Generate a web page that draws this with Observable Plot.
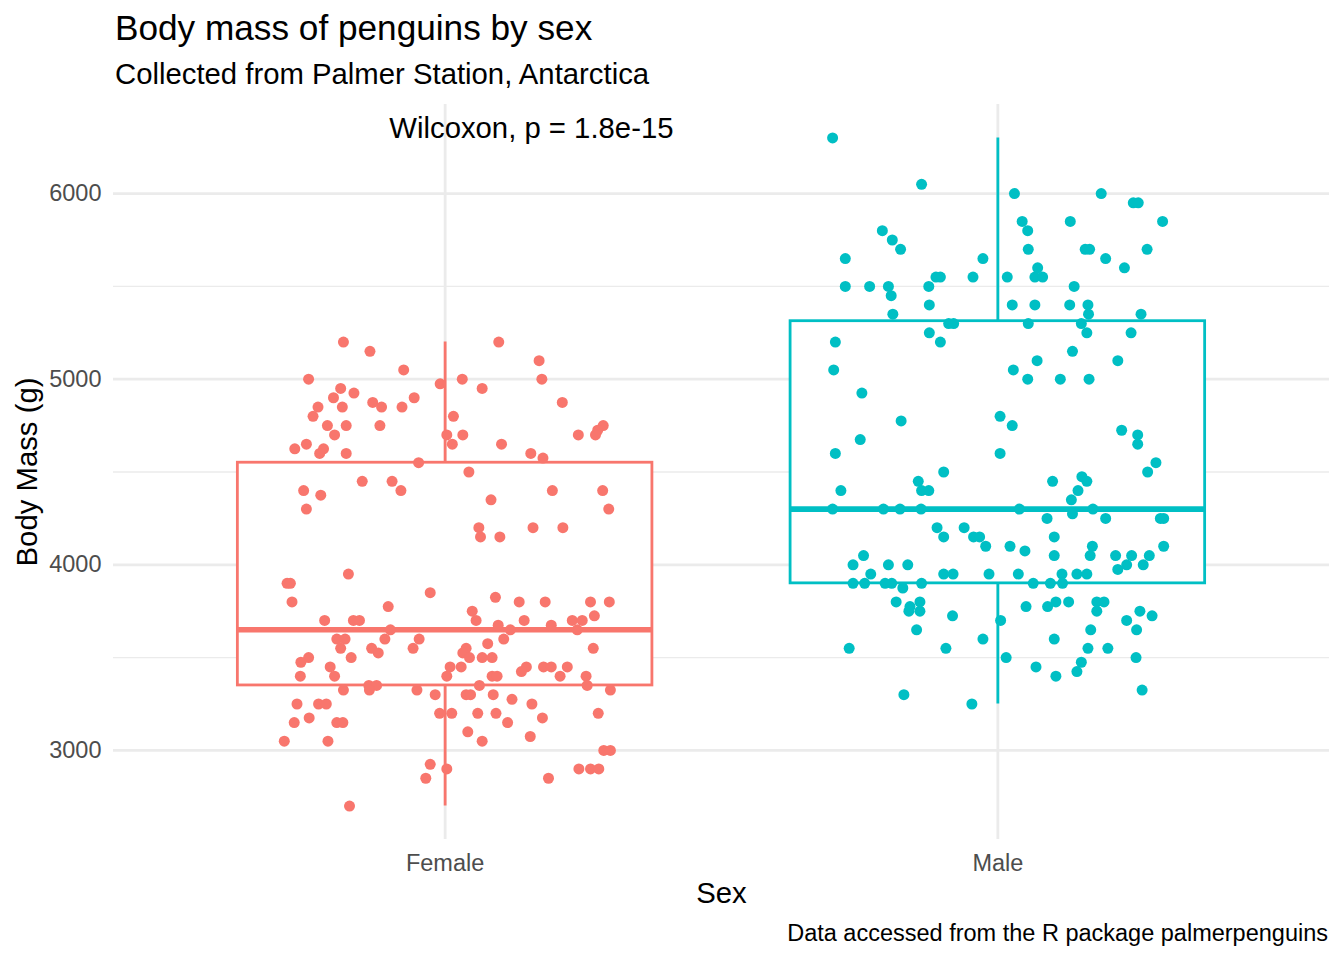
<!DOCTYPE html>
<html>
<head>
<meta charset="utf-8">
<script src="https://cdn.jsdelivr.net/npm/d3@7"></script>
<script src="https://cdn.jsdelivr.net/npm/@observablehq/plot@0.6"></script>
<style>
  body { margin: 0; background: #fff; font-family: "Liberation Sans", Arial, Helvetica, sans-serif; }
  #wrap { position: relative; width: 1344px; height: 960px; overflow: hidden; }
  .t { position: absolute; white-space: nowrap; line-height: 1; margin: 0; color: #000; }
</style>
</head>
<body>
<div id="wrap">
  <div class="t" style="left:115px; top:10px; font-size:35.2px;">Body mass of penguins by sex</div>
  <div class="t" style="left:115px; top:59px; font-size:29.3px;">Collected from Palmer Station, Antarctica</div>
  <div id="chart" style="position:absolute; left:0; top:92px;"></div>
  <div class="t" style="right:16px; top:922px; font-size:23.5px;">Data accessed from the R package palmerpenguins</div>
</div>
<script>
// ---- data ----
const sexes = ["Female", "Male"];
const sexColors = ["#F8766D", "#00BFC4"];
const yTicks = [3000, 4000, 5000, 6000];
const yMinorTicks = [3500, 4500, 5500];

// box-plot summary (g)
const boxQ1 = [3350, 3900];
const boxMedian = [3650, 4300];
const boxQ3 = [4550, 5312.5];
const whiskerLow = [2700, 3250];
const whiskerHigh = [5200, 6300];

const testLabel = "Wilcoxon, p = 1.8e-15";

// jittered points: body mass (g) and horizontal jitter (fraction of a category)
const femaleMass = [5200,5150,5050,5000,4975,4950,4925,4900,4900,4875,4850,4850,4850,4850,4800,4750,4750,4750,4700,4650,4625,4625,4600,4600,4550,4450,4450,4400,4375,4400,
5200,5100,5000,5000,4950,4875,4800,4750,4725,4700,4700,4700,4700,4650,4650,4600,4575,4500,4400,4400,4350,4300,4200,4150,4150,4200,4200,4300,3900,3900,
3800,3950,3850,3775,3700,3700,3700,3750,3700,3825,3800,3800,3800,3800,3725,3675,3700,3675,3700,3700,3650,3650,3600,3650,3600,3600,3550,3600,3600,3550,
3550,3525,3500,3500,3475,3450,3575,3550,3525,3500,3500,3500,3550,3450,3450,3450,3450,3450,3450,3425,3400,3400,3400,3400,3400,3400,3400,3350,3350,3325,
3350,3350,3325,3325,3325,3300,3300,3300,3300,3250,3250,3250,3275,3250,3175,3150,3150,3150,3200,3200,3200,3200,3150,3175,3200,3050,3050,3100,3050,3075,
3000,3000,2925,2850,2900,2900,2900,2900,2850,2700];
const femaleJitter = [-0.184,-0.136,-0.075,-0.247,-0.009,-0.189,-0.165,-0.202,-0.056,-0.131,-0.115,-0.230,-0.186,-0.078,-0.239,-0.213,-0.179,-0.118,-0.200,-0.251,-0.272,-0.220,-0.227,-0.179,-0.048,-0.150,-0.096,-0.256,-0.225,-0.080,
0.097,0.170,0.031,0.175,0.067,0.212,0.015,0.286,0.276,0.272,0.241,0.003,0.032,0.013,0.102,0.155,0.177,0.043,0.194,0.285,0.083,-0.251,0.061,0.064,0.099,0.159,0.213,0.296,-0.286,-0.280,
-0.277,-0.175,-0.027,-0.103,-0.218,-0.166,-0.155,0.049,0.056,0.091,0.134,0.181,0.263,0.297,0.270,0.096,0.143,0.192,0.230,0.248,0.239,0.118,0.106,-0.099,-0.109,-0.047,-0.058,-0.196,-0.181,-0.189,
-0.133,-0.121,-0.170,-0.247,-0.261,-0.208,0.077,0.038,0.032,0.044,0.067,0.085,0.268,0.009,0.029,0.147,0.178,0.192,0.221,0.138,-0.262,-0.200,0.003,0.085,0.094,0.208,0.255,-0.138,-0.124,-0.137,
0.062,0.257,-0.184,-0.051,0.299,-0.018,0.038,0.046,0.087,-0.268,-0.229,-0.215,0.121,0.157,-0.246,-0.273,-0.196,-0.185,-0.010,0.012,0.059,0.092,0.113,0.176,0.277,-0.291,-0.212,0.041,0.067,0.154,
0.287,0.299,-0.027,-0.035,0.003,0.242,0.263,0.278,0.187,-0.173];

const maleMass = [6300,6050,6000,6000,5950,5950,5850,5850,5850,5800,
5800,5750,5700,5700,5700,5700,5700,5650,5650,5650,
5600,5600,5550,5550,5550,5550,5550,5550,5500,5500,
5500,5500,5500,5450,5400,5400,5400,5400,5400,5350,
5350,5350,5300,5300,5300,5300,5250,5250,5250,5200,
5200,5150,5100,5100,5050,5050,5000,5000,5000,4925,
4775,4800,4750,4725,4700,4650,4675,4600,4600,4550,
4500,4500,4450,4475,4450,4450,4400,4400,4400,4400,
4350,4300,4300,4300,4300,4300,4300,4275,4250,4250,
4250,4250,4200,4200,4150,4150,4150,4100,4100,4075,
4150,4050,4100,4050,4050,4050,4050,4100,4050,4000,
4000,4000,4000,4000,3975,3950,3950,3950,3950,3950,
3950,3950,3950,3900,3900,3900,3900,3900,3900,3900,
3900,3875,3800,3775,3800,3750,3750,3725,3700,3775,
3775,3800,3800,3800,3800,3750,3750,3725,3700,3650,
3650,3650,3600,3600,3550,3550,3550,3550,3500,3500,
3475,3425,3450,3400,3325,3300,3250];
const maleJitter = [-0.299,-0.138,0.030,0.187,0.245,0.254,0.044,0.131,0.298,-0.209,
0.054,-0.191,-0.176,0.055,0.158,0.166,0.270,-0.276,-0.027,0.195,
0.229,0.072,-0.104,-0.112,-0.045,0.017,0.067,0.081,-0.276,-0.232,
-0.198,-0.125,0.138,-0.193,-0.124,0.026,0.067,0.130,0.163,-0.190,
0.164,0.259,-0.089,-0.080,0.055,0.151,-0.124,0.161,0.241,-0.294,
-0.104,0.135,0.071,0.217,-0.297,0.028,0.054,0.113,0.165,-0.246,
-0.175,0.004,0.026,0.224,0.253,0.253,-0.249,-0.294,0.004,0.286,
0.271,-0.098,-0.144,0.152,0.161,0.099,-0.284,-0.138,-0.125,0.145,
0.133,-0.299,-0.207,-0.177,-0.139,0.039,0.172,0.135,0.089,0.195,
0.294,0.300,-0.110,-0.061,-0.098,-0.044,-0.033,-0.022,0.022,0.049,
0.102,0.102,0.171,0.167,0.213,0.242,0.274,0.300,-0.243,-0.262,
-0.198,-0.163,0.263,0.233,0.217,-0.230,-0.098,-0.081,-0.016,0.037,
0.116,0.143,0.161,-0.262,-0.241,-0.204,-0.192,-0.138,0.064,0.095,
0.117,-0.172,-0.184,-0.159,-0.141,-0.161,-0.141,-0.082,0.005,0.051,
0.090,0.105,0.128,0.179,0.192,0.179,0.257,0.279,0.233,0.251,
-0.147,0.168,-0.027,0.102,-0.269,-0.094,0.163,0.199,0.015,0.250,
0.151,0.143,0.069,0.105,0.261,-0.170,-0.047];

// ---- tables built from the arrays ----
const points = [
  ...femaleMass.map((m, i) => ({sex: "Female", pos: 1 + femaleJitter[i], mass: m})),
  ...maleMass.map((m, i) => ({sex: "Male", pos: 2 + maleJitter[i], mass: m}))
];
const boxes = sexes.map((s, i) => ({
  sex: s, pos: i + 1, q1: boxQ1[i], med: boxMedian[i], q3: boxQ3[i], lo: whiskerLow[i], hi: whiskerHigh[i]
}));
const halfBox = 0.375;
const font = '"Liberation Sans", Arial, Helvetica, sans-serif';

const chart = Plot.plot({
  width: 1344,
  height: 820,
  marginTop: 12,
  marginBottom: 73,
  marginLeft: 113,
  marginRight: 15,
  style: {fontFamily: font, background: "white", overflow: "visible"},
  x: {domain: [0.4, 2.6]},
  y: {domain: [2520, 6480]},
  color: {domain: sexes, range: sexColors},
  marks: [
    Plot.gridY(yMinorTicks, {stroke: "#EBEBEB", strokeOpacity: 1, strokeWidth: 1.4}),
    Plot.gridY(yTicks, {stroke: "#EBEBEB", strokeOpacity: 1, strokeWidth: 2.8}),
    Plot.gridX([1, 2], {stroke: "#EBEBEB", strokeOpacity: 1, strokeWidth: 2.8}),
    Plot.axisY(yTicks, {tickSize: 0, tickPadding: 12, fontSize: 23.5, fill: "#4D4D4D",
      tickFormat: d => String(d), label: null}),
    Plot.axisX([1, 2], {tickSize: 0, tickPadding: 14.6, fontSize: 23.5, fill: "#4D4D4D",
      tickFormat: d => sexes[d - 1], label: null}),
    Plot.ruleX(boxes, {x: "pos", y1: "lo", y2: "hi", stroke: "sex", strokeWidth: 2.8}),
    Plot.rect(boxes, {x1: d => d.pos - halfBox, x2: d => d.pos + halfBox, y1: "q1", y2: "q3",
      fill: "white", stroke: "sex", strokeWidth: 2.8}),
    Plot.ruleY(boxes, {y: "med", x1: d => d.pos - halfBox, x2: d => d.pos + halfBox,
      stroke: "sex", strokeWidth: 5.7}),
    Plot.dot(points, {x: "pos", y: "mass", r: 5.5, fill: "sex", stroke: "none"}),
    Plot.text([testLabel], {x: 0.899, y: 6351, text: d => d, textAnchor: "start",
      lineAnchor: "middle", fontSize: 29.3, fill: "black"}),
    Plot.text(["Body Mass (g)"], {frameAnchor: "left", dx: -86, rotate: -90, text: d => d,
      textAnchor: "middle", lineAnchor: "middle", fontSize: 29.3, fill: "black"}),
    Plot.text(["Sex"], {frameAnchor: "bottom", dy: 54, text: d => d,
      textAnchor: "middle", lineAnchor: "middle", fontSize: 29.3, fill: "black"})
  ]
});
document.getElementById("chart").appendChild(chart);
</script>
</body>
</html>
